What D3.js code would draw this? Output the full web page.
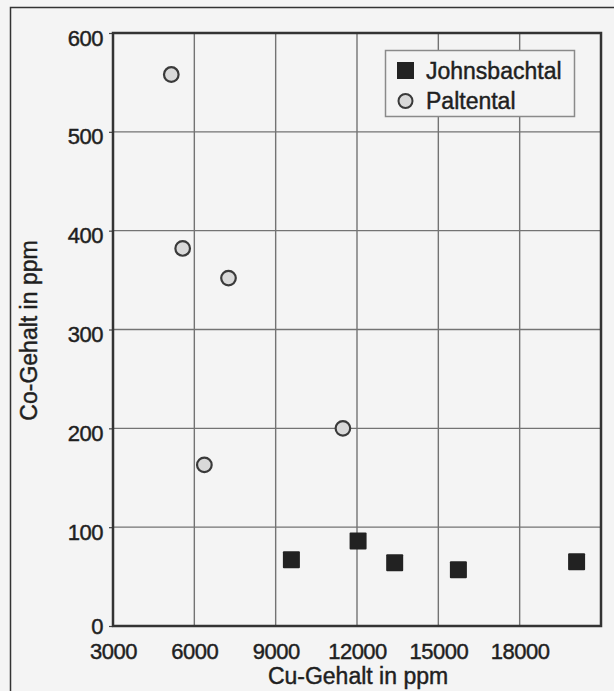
<!DOCTYPE html>
<html>
<head>
<meta charset="utf-8">
<script src="https://cdn.jsdelivr.net/npm/d3@7"></script>
<style>
  html, body { margin: 0; padding: 0; background: #f4f4f4; }
  svg { display: block; font-family: "Liberation Sans", Arial, sans-serif; }
  svg text { stroke: #1f1f1f; stroke-width: 0.45px; }
</style>
</head>
<body>
<div id="chart"></div>
<script>
// Johnsbachtal (squares) and Paltental (circles): Cu vs Co in ppm
const johnsCu = [9580, 12040, 13390, 15740, 20100]
const johnsCo = [67, 86, 64, 57, 65]

const paltCu = [5150, 5570, 7260, 6370, 11480]
const paltCo = [558, 382, 352, 163, 200]

const xTicks = [3000, 6000, 9000, 12000, 15000, 18000]
const yTicks = [0, 100, 200, 300, 400, 500, 600]
const legendNames = ["Johnsbachtal", "Paltental"]

const W = 614, H = 691
const MARGIN = { top: 33, right: 13, bottom: 65, left: 113 }

const svg = d3.select("#chart").append("svg")
    .attr("width", W)
    .attr("height", H)

svg.append("rect").attr("width", W).attr("height", H).attr("fill", "#f4f4f4")

// outer frame (only left and top edges show in the picture)
svg.append("path")
    .attr("d", "M10.5," + H + "V7.5H" + W)
    .attr("fill", "none")
    .attr("stroke", "#333")
    .attr("stroke-width", 1.5)

const x = d3.scaleLinear().domain([3000, 21000]).range([MARGIN.left, W - MARGIN.right])
const y = d3.scaleLinear().domain([0, 600]).range([H - MARGIN.bottom, MARGIN.top])

// grid
svg.append("g")
    .selectAll("line")
    .data(xTicks.slice(1))
    .join("line")
    .attr("x1", d => x(d)).attr("x2", d => x(d))
    .attr("y1", y(0)).attr("y2", y(600))
    .attr("stroke", "#737373")
    .attr("stroke-width", 1.4)

svg.append("g")
    .selectAll("line")
    .data(yTicks.slice(1, -1))
    .join("line")
    .attr("x1", x(3000)).attr("x2", x(21000))
    .attr("y1", d => y(d)).attr("y2", d => y(d))
    .attr("stroke", "#737373")
    .attr("stroke-width", 1.4)

// axes
const yAxis = svg.append("g")
    .attr("transform", "translate(" + x(3000) + ",0)")
    .call(d3.axisLeft(y).tickValues(yTicks).tickSize(4).tickPadding(6).tickFormat(d3.format("d")))
yAxis.select(".domain").remove()
yAxis.selectAll("line").attr("stroke", "#444").attr("stroke-width", 1.2)
yAxis.selectAll("text")
    .attr("dy", null)
    .attr("y", d => d === 0 ? 7 : 12)
    .attr("fill", "#1f1f1f")
    .style("font-size", "22px")
    .style("letter-spacing", "-0.5px")

const xAxis = svg.append("g")
    .attr("transform", "translate(0," + y(0) + ")")
    .call(d3.axisBottom(x).tickValues(xTicks).tickSize(0).tickPadding(0).tickFormat(d3.format("d")))
xAxis.select(".domain").remove()
xAxis.selectAll("text")
    .attr("dy", null)
    .attr("y", 33)
    .attr("fill", "#1f1f1f")
    .style("font-size", "22px")
    .style("letter-spacing", "-0.5px")

// plot frame
svg.append("rect")
    .attr("x", x(3000)).attr("y", y(600))
    .attr("width", x(21000) - x(3000))
    .attr("height", y(0) - y(600))
    .attr("fill", "none")
    .attr("stroke", "#333")
    .attr("stroke-width", 2.5)

// axis labels
svg.append("text")
    .attr("x", (x(3000) + x(21000)) / 2 + 1)
    .attr("y", 684)
    .attr("text-anchor", "middle")
    .attr("fill", "#1f1f1f")
    .style("font-size", "23px")
    .text("Cu-Gehalt in ppm")

svg.append("text")
    .attr("transform", "translate(37," + (y(300) + 1) + ") rotate(-90)")
    .attr("text-anchor", "middle")
    .attr("fill", "#1f1f1f")
    .style("font-size", "23px")
    .text("Co-Gehalt in ppm")

// points
const SQ = 17
svg.append("g")
    .selectAll("rect")
    .data(johnsCu.map((c, i) => [c, johnsCo[i]]))
    .join("rect")
    .attr("x", d => x(d[0]) - SQ / 2)
    .attr("y", d => y(d[1]) - SQ / 2)
    .attr("width", SQ).attr("height", SQ)
    .attr("rx", 1)
    .attr("fill", "#222")

svg.append("g")
    .selectAll("circle")
    .data(paltCu.map((c, i) => [c, paltCo[i]]))
    .join("circle")
    .attr("cx", d => x(d[0]))
    .attr("cy", d => y(d[1]))
    .attr("r", 7.3)
    .attr("fill", "#d9d9d9")
    .attr("stroke", "#3a3a3a")
    .attr("stroke-width", 2.2)

// legend
const lg = svg.append("g")
lg.append("rect")
    .attr("x", 385.5).attr("y", 50.5)
    .attr("width", 189).attr("height", 66)
    .attr("fill", "#f4f4f4")
    .attr("stroke", "#8a8a8a")
    .attr("stroke-width", 1.5)

lg.append("rect")
    .attr("x", 397).attr("y", 62)
    .attr("width", SQ).attr("height", SQ)
    .attr("fill", "#222")
lg.append("circle")
    .attr("cx", 405.5).attr("cy", 101)
    .attr("r", 7)
    .attr("fill", "#d9d9d9")
    .attr("stroke", "#3a3a3a")
    .attr("stroke-width", 2)

lg.selectAll("text.leg")
    .data(legendNames)
    .join("text")
    .attr("class", "leg")
    .attr("x", 426)
    .attr("y", (d, i) => 79 + i * 30)
    .attr("fill", "#1f1f1f")
    .style("font-size", "23px")
    .text(d => d)
</script>
</body>
</html>
